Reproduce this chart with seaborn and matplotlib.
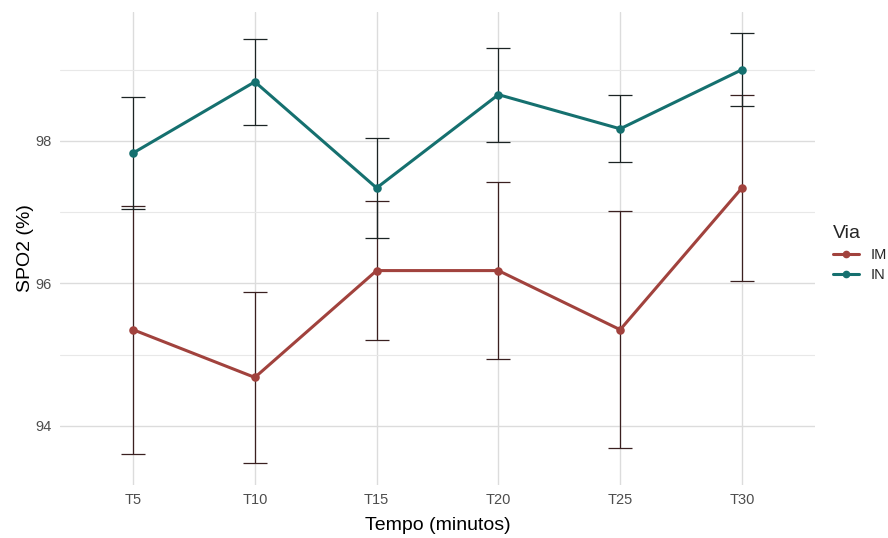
import numpy as np
import pandas as pd
import matplotlib
matplotlib.use("Agg")
import matplotlib.pyplot as plt
import seaborn as sns
from matplotlib.lines import Line2D

categories = ["T5", "T10", "T15", "T20", "T25", "T30"]
groups = ["IM", "IN"]
im_mean = [95.35, 94.68, 96.18, 96.18, 95.35, 97.34]
im_sd = [1.74, 1.20, 0.98, 1.24, 1.66, 1.30]
in_mean = [97.83, 98.83, 97.34, 98.65, 98.17, 99.00]
in_sd = [0.78, 0.60, 0.70, 0.66, 0.47, 0.51]

colors = {"IM": "#A1423D", "IN": "#15706F"}
err_colors = {"IM": "#3A2020", "IN": "#1C2424"}

df = pd.DataFrame({
    "Tempo": categories * 2,
    "SPO2": im_mean + in_mean,
    "sd": im_sd + in_sd,
    "Via": ["IM"] * len(categories) + ["IN"] * len(categories),
})

sns.set_theme(style="whitegrid")
plt.rcParams["font.family"] = ["Liberation Sans", "DejaVu Sans"]

fig = plt.figure(figsize=(8.88, 5.38), dpi=100)
ax = fig.add_axes([60 / 888, 53 / 538, 755 / 888, 473 / 538])

# error bars
for g in groups:
    sub = df[df["Via"] == g]
    xs = [categories.index(c) for c in sub["Tempo"]]
    ax.errorbar(xs, sub["SPO2"], yerr=sub["sd"], fmt="none",
                ecolor=err_colors[g], elinewidth=0.9, capsize=8.6,
                capthick=0.9, zorder=2)

sns.pointplot(data=df, x="Tempo", y="SPO2", hue="Via", order=categories,
              hue_order=groups, palette=colors, errorbar=None,
              markers="o", markersize=4.5, linewidth=2.2, ax=ax,
              legend=False, zorder=3)

ax.set_xlim(-0.6, 5.6)
ax.set_ylim(93.17, 99.81)
ax.set_yticks([94, 96, 98])
ax.set_yticks([95, 97, 99], minor=True)
ax.grid(True, which="major", color="#DCDCDC", linewidth=1.0)
ax.grid(True, which="minor", axis="y", color="#E8E8E8", linewidth=0.8)
ax.set_axisbelow(True)
for s in ax.spines.values():
    s.set_visible(False)
ax.tick_params(axis="both", which="both", length=0, labelsize=10.5,
               labelcolor="#4D4D4D", pad=6)
ax.set_xlabel("Tempo (minutos)", fontsize=14, color="black", labelpad=7)
ax.set_ylabel("SPO2 (%)", fontsize=14, color="black", labelpad=1)

handles = [Line2D([0], [0], color=colors[g], marker="o", markersize=4.5,
                  linewidth=2.2) for g in groups]
leg = fig.legend(handles, groups, title="Via", loc="upper left",
                 bbox_to_anchor=(820 / 888, 1 - 212 / 538), frameon=False,
                 fontsize=10.5, title_fontsize=14, handlelength=1.8,
                 labelspacing=0.4, alignment="left")

fig.savefig("out.png", dpi=100, facecolor="white")
